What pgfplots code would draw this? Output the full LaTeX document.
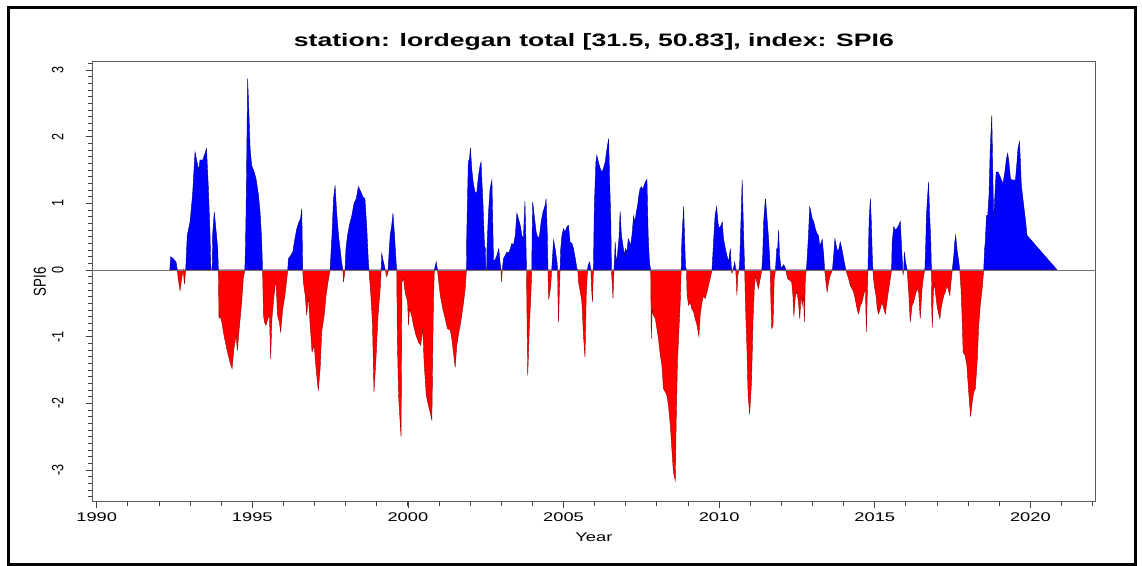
\documentclass[border=0pt]{standalone}
\usepackage{pgfplots}
\pgfplotsset{compat=1.18}
\usepackage{pgfplotstable}
\usepackage{fontspec}
\setmainfont{Liberation Sans}
\pgfplotstableread[row sep=\\]{
t v\\
1992.35 0\\ 1992.38 0.20\\ 1992.46 0.17\\ 1992.55 0.12\\ 1992.59 0\\ 1992.62 -0.13\\ 1992.68 -0.31\\ 1992.73 -0.13\\ 1992.78 0\\ 1992.82 -0.21\\ 1992.86 0\\
1992.91 0.52\\ 1993.00 0.72\\ 1993.08 1.12\\ 1993.16 1.77\\ 1993.21 1.65\\ 1993.28 1.50\\ 1993.32 1.65\\ 1993.41 1.65\\ 1993.48 1.75\\ 1993.53 1.82\\ 1993.59 1.22\\ 1993.64 0.57\\ 1993.67 0\\ 1993.71 0\\
1993.73 0.57\\ 1993.78 0.87\\ 1993.83 0.62\\ 1993.89 0.32\\ 1993.91 0\\ 1993.93 -0.73\\ 1993.96 -0.68\\ 1994.02 -0.78\\ 1994.09 -0.98\\ 1994.18 -1.18\\ 1994.28 -1.38\\ 1994.35 -1.48\\ 1994.41 -1.18\\ 1994.48 -0.98\\ 1994.52 -1.21\\ 1994.58 -0.88\\ 1994.66 -0.48\\ 1994.71 -0.13\\ 1994.76 0\\
1994.78 0.32\\ 1994.80 0.87\\ 1994.82 1.62\\ 1994.85 2.87\\ 1994.88 2.52\\ 1994.93 1.82\\ 1994.98 1.57\\ 1995.06 1.47\\ 1995.12 1.37\\ 1995.20 1.12\\ 1995.25 0.87\\ 1995.30 0.47\\ 1995.33 0\\
1995.36 -0.68\\ 1995.39 -0.78\\ 1995.44 -0.83\\ 1995.50 -0.73\\ 1995.55 -0.68\\ 1995.59 -1.33\\ 1995.63 -0.73\\ 1995.70 -0.38\\ 1995.76 -0.13\\ 1995.81 -0.68\\ 1995.87 -0.78\\ 1995.91 -0.93\\ 1995.98 -0.58\\ 1996.05 -0.38\\ 1996.11 -0.13\\ 1996.14 0\\
1996.16 0.17\\ 1996.21 0.20\\ 1996.30 0.27\\ 1996.37 0.47\\ 1996.43 0.62\\ 1996.50 0.72\\ 1996.55 0.77\\ 1996.59 0.92\\ 1996.61 0.32\\ 1996.62 0\\
1996.64 -0.18\\ 1996.70 -0.38\\ 1996.75 -0.68\\ 1996.80 -0.38\\ 1996.86 -0.83\\ 1996.92 -1.23\\ 1996.99 -1.13\\ 1997.05 -1.48\\ 1997.12 -1.81\\ 1997.18 -1.48\\ 1997.23 -0.93\\ 1997.31 -0.68\\ 1997.37 -0.38\\ 1997.45 -0.13\\ 1997.50 0\\
1997.56 0.52\\ 1997.61 1.07\\ 1997.66 1.27\\ 1997.71 0.87\\ 1997.77 0.52\\ 1997.82 0.32\\ 1997.87 0.12\\ 1997.91 0\\ 1997.93 -0.18\\ 1997.96 -0.08\\ 1997.98 0\\
1998.01 0.32\\ 1998.06 0.52\\ 1998.12 0.67\\ 1998.20 0.82\\ 1998.27 1.00\\ 1998.34 1.07\\ 1998.41 1.25\\ 1998.49 1.17\\ 1998.55 1.10\\ 1998.62 1.07\\ 1998.68 0.62\\ 1998.73 0.12\\ 1998.75 0\\
1998.81 -0.38\\ 1998.86 -0.78\\ 1998.91 -1.83\\ 1998.98 -1.28\\ 1999.04 -0.68\\ 1999.11 -0.28\\ 1999.14 0\\ 1999.16 0.25\\ 1999.19 0.17\\ 1999.24 0.07\\ 1999.27 0\\ 1999.32 -0.10\\ 1999.36 -0.03\\
1999.39 0.22\\ 1999.43 0.52\\ 1999.48 0.67\\ 1999.52 0.85\\ 1999.57 0.52\\ 1999.62 0.12\\ 1999.64 0\\
1999.66 -1.03\\ 1999.70 -1.88\\ 1999.75 -2.28\\ 1999.78 -2.50\\ 1999.81 -0.18\\ 1999.86 -0.13\\ 1999.91 -0.33\\ 1999.99 -0.48\\ 2000.02 -0.83\\ 2000.05 -0.58\\ 2000.12 -0.68\\ 2000.18 -0.83\\ 2000.26 -0.98\\ 2000.34 -1.08\\ 2000.41 -1.13\\ 2000.48 -0.88\\ 2000.52 -1.38\\ 2000.59 -1.88\\ 2000.66 -2.03\\ 2000.71 -2.13\\ 2000.77 -2.25\\ 2000.82 -0.48\\ 2000.85 0\\
2000.91 0.12\\ 2000.95 0\\ 2000.98 -0.13\\ 2001.04 -0.38\\ 2001.12 -0.58\\ 2001.20 -0.73\\ 2001.27 -0.88\\ 2001.36 -0.90\\ 2001.41 -1.03\\ 2001.46 -1.23\\ 2001.52 -1.46\\ 2001.57 -1.13\\ 2001.62 -0.98\\ 2001.68 -0.83\\ 2001.73 -0.68\\ 2001.79 -0.48\\ 2001.84 -0.28\\ 2001.88 0\\
2001.89 0.52\\ 2001.94 1.62\\ 2001.98 1.67\\ 2002.01 1.83\\ 2002.05 1.52\\ 2002.11 1.27\\ 2002.16 1.17\\ 2002.21 1.15\\ 2002.27 1.42\\ 2002.32 1.57\\ 2002.35 1.62\\ 2002.41 1.02\\ 2002.46 0.37\\ 2002.49 0.32\\ 2002.50 0\\ 2002.53 0\\
2002.54 0.32\\ 2002.59 0.87\\ 2002.64 1.22\\ 2002.70 1.35\\ 2002.73 0.62\\ 2002.75 0.15\\ 2002.80 0.15\\ 2002.86 0.22\\ 2002.92 0.32\\ 2002.96 0.12\\ 2002.99 0\\ 2003.01 -0.18\\ 2003.03 0\\
2003.07 0.17\\ 2003.13 0.22\\ 2003.18 0.27\\ 2003.23 0.25\\ 2003.29 0.32\\ 2003.34 0.40\\ 2003.39 0.37\\ 2003.45 0.52\\ 2003.50 0.85\\ 2003.55 0.77\\ 2003.61 0.67\\ 2003.66 0.52\\ 2003.71 0.47\\ 2003.76 1.03\\ 2003.79 0.47\\ 2003.81 0\\
2003.83 -0.88\\ 2003.85 -1.58\\ 2003.90 -0.88\\ 2003.95 -0.38\\ 2003.98 0\\
2003.99 0.52\\ 2004.01 1.02\\ 2004.07 0.77\\ 2004.12 0.57\\ 2004.18 0.47\\ 2004.23 0.52\\ 2004.28 0.72\\ 2004.34 0.87\\ 2004.41 0.97\\ 2004.44 1.07\\ 2004.48 0.52\\ 2004.50 0\\
2004.52 -0.43\\ 2004.55 -0.38\\ 2004.59 -0.23\\ 2004.62 0\\ 2004.65 0.22\\ 2004.68 0.45\\ 2004.73 0.32\\ 2004.79 0.12\\ 2004.81 0\\ 2004.82 -0.38\\ 2004.84 -0.78\\ 2004.87 -0.28\\ 2004.89 0\\
2004.91 0.32\\ 2004.95 0.52\\ 2005.00 0.62\\ 2005.05 0.57\\ 2005.11 0.65\\ 2005.16 0.67\\ 2005.21 0.42\\ 2005.27 0.40\\ 2005.32 0.32\\ 2005.38 0.17\\ 2005.43 0.02\\ 2005.46 0\\
2005.48 -0.18\\ 2005.54 -0.33\\ 2005.59 -0.48\\ 2005.64 -0.98\\ 2005.69 -1.31\\ 2005.73 -0.38\\ 2005.77 0\\ 2005.79 0.07\\ 2005.84 0.12\\ 2005.86 0.05\\ 2005.88 0\\ 2005.90 -0.28\\ 2005.93 -0.48\\ 2005.96 0\\
2005.99 0.97\\ 2006.04 1.62\\ 2006.07 1.72\\ 2006.12 1.62\\ 2006.18 1.52\\ 2006.23 1.47\\ 2006.28 1.52\\ 2006.34 1.62\\ 2006.39 1.80\\ 2006.45 1.97\\ 2006.48 1.37\\ 2006.52 0.72\\ 2006.54 0\\ 2006.56 -0.18\\ 2006.59 -0.43\\ 2006.62 0\\
2006.64 0.17\\ 2006.66 0.42\\ 2006.69 0.12\\ 2006.73 0.22\\ 2006.78 0.47\\ 2006.82 0.88\\ 2006.86 0.52\\ 2006.91 0.37\\ 2006.95 0.22\\ 2006.99 0.32\\ 2007.04 0.27\\ 2007.08 0.47\\ 2007.12 0.42\\ 2007.16 0.37\\ 2007.21 0.57\\ 2007.25 0.81\\ 2007.29 0.72\\ 2007.34 0.87\\ 2007.38 0.97\\ 2007.42 1.12\\ 2007.46 1.22\\ 2007.51 1.25\\ 2007.55 1.20\\ 2007.59 1.27\\ 2007.63 1.32\\ 2007.68 1.36\\ 2007.72 0.52\\ 2007.76 0.12\\ 2007.80 0\\
2007.82 -1.03\\ 2007.85 -0.58\\ 2007.89 -0.68\\ 2007.95 -0.73\\ 2008.00 -0.88\\ 2008.05 -1.03\\ 2008.11 -1.28\\ 2008.16 -1.43\\ 2008.21 -1.78\\ 2008.27 -1.83\\ 2008.32 -1.88\\ 2008.37 -2.03\\ 2008.43 -2.33\\ 2008.48 -2.68\\ 2008.53 -3.03\\ 2008.59 -3.16\\ 2008.62 -2.28\\ 2008.66 -1.38\\ 2008.71 -0.88\\ 2008.75 -0.48\\ 2008.78 0\\
2008.80 0.42\\ 2008.82 0.62\\ 2008.86 0.95\\ 2008.89 0.47\\ 2008.92 0.05\\ 2008.95 0\\
2008.97 -0.38\\ 2009.02 -0.53\\ 2009.07 -0.48\\ 2009.12 -0.58\\ 2009.18 -0.63\\ 2009.23 -0.73\\ 2009.29 -0.83\\ 2009.35 -1.00\\ 2009.39 -0.68\\ 2009.45 -0.48\\ 2009.50 -0.38\\ 2009.55 -0.43\\ 2009.61 -0.33\\ 2009.66 -0.23\\ 2009.71 -0.13\\ 2009.77 0\\
2009.82 0.42\\ 2009.87 0.82\\ 2009.92 0.95\\ 2009.96 0.72\\ 2010.00 0.62\\ 2010.06 0.67\\ 2010.10 0.72\\ 2010.14 0.47\\ 2010.20 0.32\\ 2010.25 0.22\\ 2010.30 0.12\\ 2010.36 0.32\\ 2010.39 0.05\\ 2010.41 -0.05\\ 2010.45 0\\ 2010.50 0.12\\ 2010.53 0.02\\ 2010.55 -0.13\\ 2010.57 -0.38\\ 2010.60 -0.08\\ 2010.64 0\\
2010.66 0.12\\ 2010.68 0.42\\ 2010.71 0.87\\ 2010.74 1.35\\ 2010.79 0.47\\ 2010.82 0\\ 2010.84 -0.38\\ 2010.86 -0.73\\ 2010.89 -1.13\\ 2010.93 -1.88\\ 2010.98 -2.16\\ 2011.04 -1.68\\ 2011.09 -0.73\\ 2011.13 -0.28\\ 2011.17 -0.08\\ 2011.21 -0.18\\ 2011.26 -0.28\\ 2011.30 -0.18\\ 2011.34 -0.08\\ 2011.37 0\\
2011.40 0.22\\ 2011.43 0.72\\ 2011.46 0.92\\ 2011.49 1.07\\ 2011.54 0.77\\ 2011.58 0.52\\ 2011.62 0.22\\ 2011.64 0\\ 2011.66 -0.43\\ 2011.69 -0.88\\ 2011.73 -0.83\\ 2011.77 -0.13\\ 2011.81 0\\
2011.85 0.32\\ 2011.88 0.32\\ 2011.91 0.60\\ 2011.94 0.22\\ 2011.99 0.02\\ 2012.03 0.05\\ 2012.07 0.08\\ 2012.11 0.05\\ 2012.14 0\\
2012.20 -0.13\\ 2012.26 -0.15\\ 2012.33 -0.18\\ 2012.37 -0.38\\ 2012.40 -0.70\\ 2012.45 -0.38\\ 2012.50 -0.33\\ 2012.55 -0.48\\ 2012.59 -0.73\\ 2012.63 -0.38\\ 2012.67 -0.53\\ 2012.71 -0.38\\ 2012.74 -0.78\\ 2012.77 -0.13\\ 2012.80 0\\
2012.82 0.12\\ 2012.84 0.27\\ 2012.87 0.52\\ 2012.91 0.95\\ 2012.95 0.87\\ 2012.99 0.77\\ 2013.04 0.72\\ 2013.09 0.62\\ 2013.14 0.55\\ 2013.19 0.52\\ 2013.23 0.37\\ 2013.27 0.40\\ 2013.31 0.46\\ 2013.36 0.22\\ 2013.39 0\\
2013.43 -0.18\\ 2013.47 -0.33\\ 2013.52 -0.18\\ 2013.57 -0.08\\ 2013.64 0\\
2013.68 0.22\\ 2013.72 0.47\\ 2013.76 0.37\\ 2013.81 0.27\\ 2013.85 0.32\\ 2013.89 0.42\\ 2013.94 0.32\\ 2013.98 0.22\\ 2014.02 0.12\\ 2014.07 0\\
2014.16 -0.13\\ 2014.21 -0.23\\ 2014.27 -0.28\\ 2014.32 -0.33\\ 2014.37 -0.43\\ 2014.43 -0.58\\ 2014.48 -0.66\\ 2014.54 -0.53\\ 2014.59 -0.48\\ 2014.64 -0.38\\ 2014.70 -0.28\\ 2014.73 -0.93\\ 2014.76 -0.38\\ 2014.78 0\\
2014.80 0.37\\ 2014.82 0.77\\ 2014.86 1.07\\ 2014.89 0.72\\ 2014.92 0.22\\ 2014.94 0\\
2014.96 -0.13\\ 2015.00 -0.28\\ 2015.04 -0.38\\ 2015.08 -0.58\\ 2015.12 -0.66\\ 2015.18 -0.58\\ 2015.23 -0.48\\ 2015.29 -0.58\\ 2015.34 -0.66\\ 2015.39 -0.48\\ 2015.45 -0.28\\ 2015.50 -0.13\\ 2015.54 0\\
2015.56 0.42\\ 2015.61 0.65\\ 2015.66 0.60\\ 2015.71 0.62\\ 2015.77 0.67\\ 2015.82 0.73\\ 2015.86 0.37\\ 2015.90 0\\ 2015.91 -0.08\\ 2015.93 0\\ 2015.95 0.27\\ 2015.99 0.12\\ 2016.04 0\\
2016.09 -0.33\\ 2016.14 -0.78\\ 2016.20 -0.53\\ 2016.25 -0.48\\ 2016.30 -0.38\\ 2016.36 -0.28\\ 2016.41 -0.33\\ 2016.46 -0.73\\ 2016.52 -0.28\\ 2016.57 -0.08\\ 2016.61 0\\
2016.64 0.42\\ 2016.66 0.82\\ 2016.70 1.12\\ 2016.73 1.32\\ 2016.76 0.87\\ 2016.80 0.42\\ 2016.82 0\\
2016.83 -0.58\\ 2016.85 -0.86\\ 2016.88 -0.38\\ 2016.91 -0.18\\ 2016.96 -0.38\\ 2017.00 -0.53\\ 2017.04 -0.63\\ 2017.09 -0.73\\ 2017.13 -0.58\\ 2017.17 -0.48\\ 2017.22 -0.38\\ 2017.27 -0.33\\ 2017.32 -0.23\\ 2017.38 -0.33\\ 2017.41 -0.38\\ 2017.45 -0.18\\ 2017.49 0\\
2017.54 0.22\\ 2017.57 0.42\\ 2017.60 0.52\\ 2017.64 0.32\\ 2017.70 0.12\\ 2017.73 0\\
2017.77 -0.28\\ 2017.80 -0.63\\ 2017.84 -1.23\\ 2017.90 -1.28\\ 2017.96 -1.43\\ 2018.01 -1.78\\ 2018.05 -2.03\\ 2018.08 -2.20\\ 2018.13 -1.98\\ 2018.18 -1.83\\ 2018.23 -1.78\\ 2018.29 -1.38\\ 2018.34 -0.83\\ 2018.39 -0.53\\ 2018.45 -0.28\\ 2018.50 0\\
2018.53 0.32\\ 2018.55 0.42\\ 2018.59 0.82\\ 2018.63 0.82\\ 2018.67 1.12\\ 2018.71 1.82\\ 2018.76 2.32\\ 2018.79 1.52\\ 2018.82 0.77\\ 2018.86 1.12\\ 2018.90 1.47\\ 2018.96 1.47\\ 2019.01 1.42\\ 2019.07 1.35\\ 2019.12 1.30\\ 2019.18 1.47\\ 2019.23 1.67\\ 2019.27 1.75\\ 2019.31 1.62\\ 2019.36 1.37\\ 2019.41 1.35\\ 2019.52 1.35\\ 2019.57 1.62\\ 2019.60 1.82\\ 2019.65 1.93\\ 2019.68 1.62\\ 2019.71 1.27\\ 2019.76 1.07\\ 2019.81 0.87\\ 2019.85 0.72\\ 2019.89 0.52\\ 2020.86 0\\
}\spi
\begin{document}
\begin{tikzpicture}
\path[use as bounding box] (0pt,0pt) rectangle (856.5pt,424.5pt);
\draw[line width=2.25pt] (6.4pt,1.4pt) rectangle (851.6pt,418.5pt);
\begin{axis}[
  at={(69pt,48pt)}, anchor=south west,
  scale only axis, width=752.8pt, height=330pt,
  xmin=1989.85, xmax=2022.1, ymin=-3.48, ymax=3.12,
  xtick={1990,1995,2000,2005,2010,2015,2020},
  xticklabels={1990,1995,2000,2005,2010,2015,2020},
  minor xtick={1991,1992,...,2022},
  ytick={-3,-2,-1,0,1,2,3},
  yticklabels={-3,-2,-1,0,1,2,3},
  minor ytick={-3.4,-3.3,...,3.1},
  tick align=outside, tick pos=left,
  major tick length=4.8pt, minor tick length=2.8pt,
  tick style={black!75, line width=0.6pt},
  axis line style={black!65, line width=0.75pt},
  tick label style={font=\fontsize{9.45}{11}\selectfont},
  xticklabel style={xscale=1.45, anchor=north, yshift=0pt},
  yticklabel style={xshift=-12pt, xscale=1.3, rotate=90, anchor=south},
  xlabel={Year}, ylabel={SPI6},
  label style={font=\fontsize{9.45}{11}\selectfont},
  xlabel style={at={(axis description cs:0.5,-0.0795)}, anchor=center, xscale=1.45},
  every axis y label/.style={at={(axis description cs:-0.0518,0.5)}, anchor=center, xscale=1.3, rotate=90},
  title={station: lordegan total [31.5, 50.83], index: SPI6},
  title style={at={(axis description cs:0.5,1.028)}, anchor=center, font=\bfseries\fontsize{13.5}{15}\selectfont, xscale=1.476},
]
\addplot[fill=blue, draw=blue!55!black, line width=0.3pt] table[x=t, y expr={max(\thisrow{v},0)}] {\spi} \closedcycle;
\addplot[fill=red, draw=red!60!black, line width=0.3pt] table[x=t, y expr={min(\thisrow{v},0)}] {\spi} \closedcycle;
\addplot[black!55, line width=0.7pt] coordinates {(1989.85,0) (2022.1,0)};
\end{axis}
\end{tikzpicture}
\end{document}
